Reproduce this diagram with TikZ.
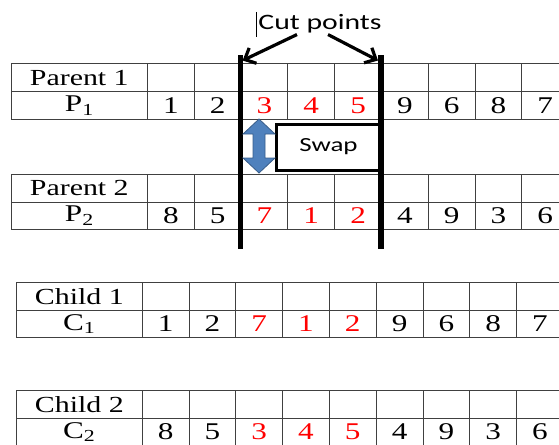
\documentclass[tikz,border=0pt]{standalone}
\usepackage{fontspec}
\setmainfont{Liberation Serif}[FakeStretch=1.3]
\newfontfamily\calloutfont{Carlito}[FakeStretch=1.35]
\usetikzlibrary{arrows.meta, positioning, calc}
\definecolor{gridgray}{RGB}{64, 64, 64}
\definecolor{swapblue}{RGB}{79, 129, 189}
\definecolor{swapedge}{RGB}{56, 93, 138}
\definecolor{genered}{RGB}{255, 0, 0}

\tikzset{
    cell/.style={draw=gridgray, line width=0.9pt, minimum width=46.8pt, minimum height=27.7pt,
        inner sep=0pt, anchor=north west, font=\fontsize{24}{24}\selectfont},
    namecell/.style={cell, minimum width=#1, font=\fontsize{23}{23}\selectfont},
    cutline/.style={line width=5.5pt},
    cutarrow/.style={line width=3.2pt, -{Straight Barb[length=9pt, width=17pt]}},
    swapbox/.style={draw, line width=3pt, minimum width=104pt, minimum height=46pt,
        inner sep=0pt, font=\calloutfont\fontsize{20}{20}\selectfont},
    swaparrow/.style={fill=swapblue, draw=swapedge, line width=0.8pt}
}

\begin{document}
\begin{tikzpicture}[x=1pt, y=-1pt]
    \useasboundingbox (0,0) rectangle (559,444);
    \clip (0,0) rectangle (559,444);

    % parent 1
    \node[namecell=136.3pt] (par1) at (10.7,63.5) {Parent 1};
    \node[namecell=136.3pt, font=\fontsize{24}{24}\selectfont] (p1) at (10.7,91.2) {P\textsubscript{1}};
    \foreach \v/\c [count=\i] in {1/black,2/black,3/genered,4/genered,5/genered,9/black,6/black,8/black,7/black} {
        \node[cell] (p1t\i) at ({147+46.8*(\i-1)},63.5) {};
        \node[cell, text=\c] (p1b\i) at ({147+46.8*(\i-1)},91.2) {\v};
    }

    % parent 2
    \node[namecell=136.3pt] (par2) at (10.7,174) {Parent 2};
    \node[namecell=136.3pt, font=\fontsize{24}{24}\selectfont] (p2) at (10.7,201.7) {P\textsubscript{2}};
    \foreach \v/\c [count=\i] in {8/black,5/black,7/genered,1/genered,2/genered,4/black,9/black,3/black,6/black} {
        \node[cell] (p2t\i) at ({147+46.8*(\i-1)},174) {};
        \node[cell, text=\c] (p2b\i) at ({147+46.8*(\i-1)},201.7) {\v};
    }

    % child 1
    \node[namecell=125.7pt] (chi1) at (16,282) {Child 1};
    \node[namecell=125.7pt, font=\fontsize{24}{24}\selectfont] (c1) at (16,309.7) {C\textsubscript{1}};
    \foreach \v/\c [count=\i] in {1/black,2/black,7/genered,1/genered,2/genered,9/black,6/black,8/black,7/black} {
        \node[cell] (c1t\i) at ({141.7+46.8*(\i-1)},282) {};
        \node[cell, text=\c] (c1b\i) at ({141.7+46.8*(\i-1)},309.7) {\v};
    }

    % child 2
    \node[namecell=125.7pt] (chi2) at (16,390) {Child 2};
    \node[namecell=125.7pt, font=\fontsize{24}{24}\selectfont] (c2) at (16,417.7) {C\textsubscript{2}};
    \foreach \v/\c [count=\i] in {8/black,5/black,3/genered,4/genered,5/genered,4/black,9/black,3/black,6/black} {
        \node[cell] (c2t\i) at ({141.7+46.8*(\i-1)},390) {};
        \node[cell, text=\c] (c2b\i) at ({141.7+46.8*(\i-1)},417.7) {\v};
    }

    % cut points
    \draw[cutline] ($(p1t3.north west)+(0,-8)$) -- ($(p2b3.south west)+(0,19)$);
    \draw[cutline] ($(p1t6.north west)+(0,-8)$) -- ($(p2b6.south west)+(0,19)$);

    \node[font=\calloutfont\fontsize{22}{22}\selectfont, inner sep=0pt] (cut) at (320,24) {Cut points};
    \draw[line width=0.6pt] ($(cut.west)+(-2,-12)$) -- ++(0,25);
    \coordinate (tipL) at ($(p1t3.north west)+(2,-3)$);
    \coordinate (tipR) at ($(p1t6.north west)+(-3,-3)$);
    \draw[cutarrow] ($(cut.south)+(-23,1)$) -- (tipL);
    \draw[cutarrow] ($(cut.south)+(8,1)$) -- (tipR);

    % swap
    \node[swapbox] (swap) at (328.5,147) {Swap};
    \draw[swaparrow] (259,119) -- ++(16,15) -- ++(-10,0) -- ++(0,24) -- ++(10,0) -- (259,173)
        -- ++(-16,-15) -- ++(10,0) -- ++(0,-24) -- ++(-10,0) -- cycle;
\end{tikzpicture}
\end{document}
